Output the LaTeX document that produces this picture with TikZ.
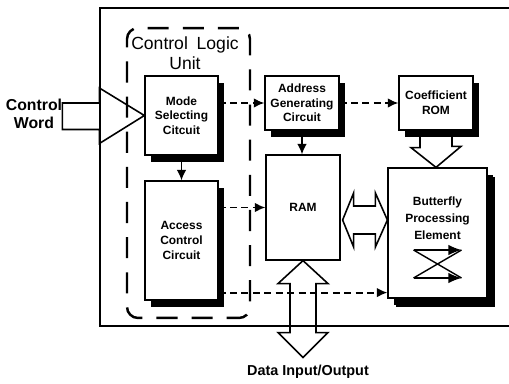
\documentclass[tikz,border=0pt]{standalone}
\usepackage{fontspec}
\setmainfont{Liberation Sans}
\usetikzlibrary{arrows.meta,calc,shadows}

\tikzset{
  blk/.style={draw, line width=0.7pt, fill=white, align=center, inner sep=1pt,
    font=\fontsize{6.8}{8.3}\selectfont\bfseries,
    drop shadow={shadow xshift=0.12cm, shadow yshift=-0.14cm, fill=black, opacity=1}},
  blkflat/.style={draw, line width=0.7pt, fill=white, align=center, inner sep=1pt,
    font=\fontsize{6.8}{8.3}\selectfont\bfseries},
  blktext/.style={align=center, inner sep=0pt, font=\fontsize{6.8}{9.5}\selectfont\bfseries},
  clubox/.style={draw, line width=1.4pt, rounded corners=0.22cm, dash pattern=on 12pt off 8pt},
  dashline/.style={line width=1.1pt, dash pattern=on 4pt off 2.5pt, -{Latex[length=6pt,width=5.5pt]}},
  solidarrow/.style={line width=0.9pt, -{Latex[length=6pt,width=5.5pt]}},
  hollow/.style={line width=0.9pt, line join=miter},
}

\begin{document}
\begin{tikzpicture}[x=0.02cm, y=-0.02cm]
  \useasboundingbox (0,0) rectangle (509,384);

  % outer frame (open to the right)
  \draw[line width=0.6pt] (509,8) -- (100,8) -- (100,326) -- (509,326);

  % control logic unit
  \node (clu) [clubox, minimum width=2.46cm, minimum height=5.8cm] at (188.5,173) {};
  \node (clutitle) [align=center, inner sep=0pt, font=\fontsize{10}{11.3}\selectfont] at (185,53) {Control\enspace Logic\\Unit};

  % blocks
  \node (mode) [blk, minimum width=1.46cm, minimum height=1.58cm] at (181.5,115.5) {Mode\\Selecting\\Citcuit};
  \node (access) [blk, minimum width=1.46cm, minimum height=2.38cm] at (181.5,240.5) {Access\\Control\\Circuit};
  \node (addr) [blk, minimum width=1.48cm, minimum height=1.08cm] at (302,103) {Address\\Generating\\Circuit};
  \node (rom) [blk, minimum width=1.48cm, minimum height=1.08cm] at (436,103) {Coefficient\\ROM};
  \node (ram) [blkflat, minimum width=1.48cm, minimum height=2.1cm] at (303,207.5) {RAM};
  \node (bpe) [blk, minimum width=1.98cm, minimum height=2.6cm,
    drop shadow={shadow xshift=0.16cm, shadow yshift=-0.18cm, fill=black, opacity=1}] at (437.5,233) {};
  \node (bpelbl) [blktext] at ($(bpe.north)+(0,51)$) {Butterfly\\Processing\\Element};

  % outside texts
  \node (cw) [align=center, inner sep=0pt, font=\fontsize{9}{10.2}\selectfont\bfseries] at (34,114) {Control\\Word};
  \node (io) [inner sep=0pt, font=\fontsize{8.2}{9}\selectfont\bfseries] at (308,372) {Data Input/Output};

  % control paths
  \draw[dashline] (mode.east |- addr.west) -- (addr.west);
  \draw[dashline] (addr.east) -- (rom.west);
  \draw[dashline] (access.east |- ram.west) -- (ram.west);
  \coordinate (bpein) at ($(bpe.south west)+(0,-6)$);
  \draw[dashline] (access.east |- bpein) -- (bpein);
  \draw[solidarrow] (mode.south) -- (access.north);
  \draw[solidarrow] (addr.south) -- (addr.south |- ram.north);

  % control word in
  \draw[hollow] ($(mode.west)+(-82,-12.5)$) -- ++(37,0) -- ++(0,-15) -- (mode.west)
    -- ++(-45,28) -- ++(0,-14) -- ++(-37,0) -- cycle;

  % RAM <-> butterfly
  \coordinate (dl) at ($(ram.east)+(2,12.5)$);
  \coordinate (dr) at (bpe.west |- dl);
  \draw[hollow] (dl) -- ++(11,-27) -- ++(0,13) -- ($(dr)+(-12,-14)$) -- ++(0,-13) -- (dr)
    -- ++(-12,27) -- ++(0,-13) -- ($(dl)+(11,14)$) -- ++(0,13) -- cycle;

  % RAM <-> data in/out
  \draw[hollow] (ram.south) -- ++(25,23) -- ++(-12,0) -- ++(0,49) -- ++(12,0) -- ++(-25,25)
    -- ++(-25,-25) -- ++(12,0) -- ++(0,-49) -- ++(-12,0) -- cycle;

  % coefficients into butterfly
  \draw[hollow] ($(rom.south)+(-16,0)$) -- ++(0,17) -- ++(-9,0) -- (rom.south |- bpe.north)
    -- ++(25,-21) -- ++(-9,0) -- ++(0,-17);

  % butterfly sign
  \coordinate (tl) at ($(bpe.center)+(-24,17)$);
  \coordinate (tr) at ($(bpe.center)+(24,17)$);
  \coordinate (bl) at ($(bpe.center)+(-24,45)$);
  \coordinate (br) at ($(bpe.center)+(24,45)$);
  \draw[line width=0.8pt] (tl) -- (br) (bl) -- (tr);
  \draw[line width=0.8pt, -{Latex[length=7.5pt,width=6pt]}] (tl) -- (tr);
  \draw[line width=0.8pt, -{Latex[length=7.5pt,width=6pt]}] (bl) -- (br);
\end{tikzpicture}
\end{document}
